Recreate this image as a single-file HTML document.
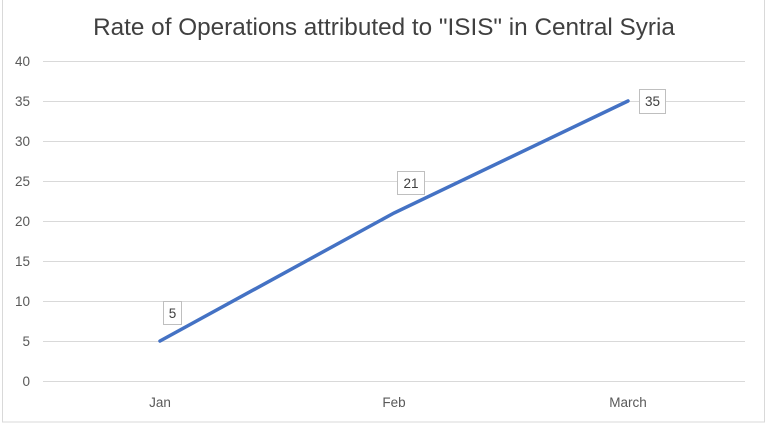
<!DOCTYPE html>
<html><head><style>body{margin:0;background:#fff}svg{display:block}</style></head><body>
<svg width="768" height="430" xmlns="http://www.w3.org/2000/svg" font-family="Liberation Sans, sans-serif">
<rect x="2.5" y="-1" width="762" height="423" fill="#fff" stroke="#d9d9d9"/>
<text x="384" y="35" font-size="24.3" fill="#404040" text-anchor="middle">Rate of Operations attributed to "ISIS" in Central Syria</text>
<g stroke="#d9d9d9" stroke-width="1">
<line x1="43" x2="745" y1="61.5" y2="61.5"/><line x1="43" x2="745" y1="101.5" y2="101.5"/>
<line x1="43" x2="745" y1="141.5" y2="141.5"/><line x1="43" x2="745" y1="181.5" y2="181.5"/>
<line x1="43" x2="745" y1="221.5" y2="221.5"/><line x1="43" x2="745" y1="261.5" y2="261.5"/>
<line x1="43" x2="745" y1="301.5" y2="301.5"/><line x1="43" x2="745" y1="341.5" y2="341.5"/>
<line x1="43" x2="745" y1="381.5" y2="381.5"/>
</g>
<g font-size="13.5" fill="#595959" text-anchor="end">
<text x="30" y="66">40</text><text x="30" y="106">35</text><text x="30" y="146">30</text>
<text x="30" y="186">25</text><text x="30" y="226">20</text><text x="30" y="266">15</text>
<text x="30" y="306">10</text><text x="30" y="346">5</text><text x="30" y="386">0</text>
</g>
<g font-size="13.5" fill="#595959" text-anchor="middle">
<text x="160" y="407">Jan</text><text x="394" y="407">Feb</text><text x="628" y="407">March</text>
</g>
<polyline points="160,341 394,213 628,101" fill="none" stroke="#4472c4" stroke-width="3.5" stroke-linecap="round"/>
<g fill="#fff" stroke="#bfbfbf">
<rect x="163.5" y="301.5" width="18" height="23"/><rect x="397.5" y="171.5" width="27" height="23"/><rect x="639.5" y="89.5" width="26" height="24"/>
</g>
<g font-size="13.5" fill="#404040" text-anchor="middle">
<text x="172.5" y="318">5</text><text x="411" y="188">21</text><text x="652.5" y="106">35</text>
</g>
</svg>
</body></html>
